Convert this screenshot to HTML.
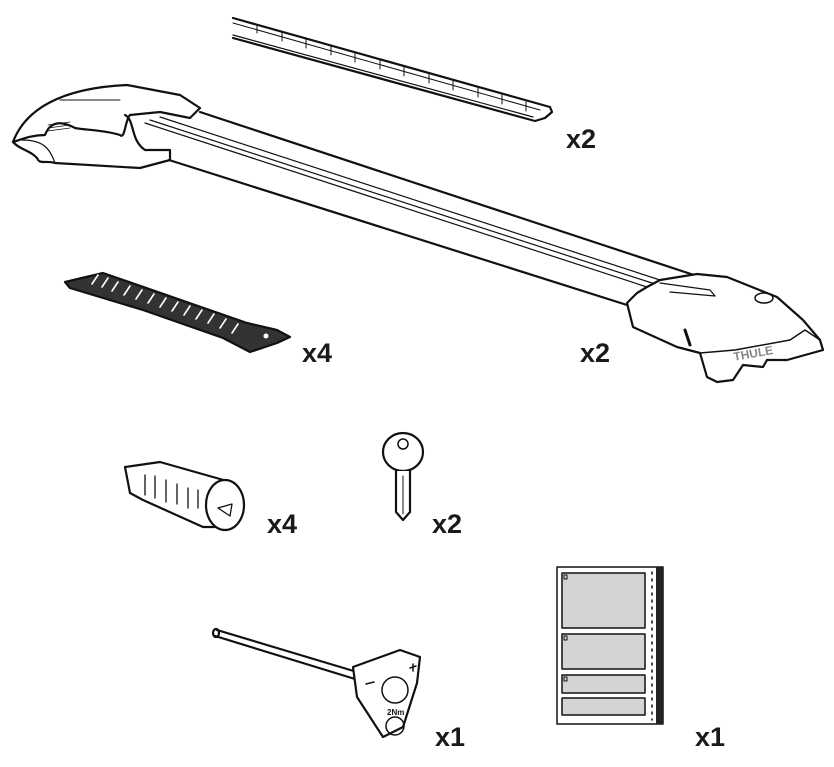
<!DOCTYPE html>
<html><head><meta charset="utf-8"><style>
html,body{margin:0;padding:0;background:#fff;}
svg{display:block;}
.l{font-family:"Liberation Sans",sans-serif;font-weight:bold;font-size:27px;fill:#1a1a1a;}
</style></head><body>
<svg width="834" height="767" viewBox="0 0 834 767" xmlns="http://www.w3.org/2000/svg" fill="none" stroke="#111" stroke-width="2.2" stroke-linejoin="round" stroke-linecap="round">
<!-- strip -->
<path d="M233,18 L550,107 L552,112 L545,118 L535,121 L233,38" fill="#fff"/>
<path d="M233,23 L540,110" stroke-width="1"/>
<path d="M233,35 L533,117" stroke-width="1.2"/>
<g stroke-width="1">
<path d="M257,25 v8 M282,32 v9 M306,39 v9 M331,46 v9 M355,53 v9 M380,60 v9 M404,67 v9 M429,74 v9 M453,81 v9 M478,88 v9 M502,95 v9 M526,102 v9"/>
</g>
<!-- bar -->
<path d="M200,112 L700,277" />
<path d="M160,117 L660,280" stroke-width="1.2"/>
<path d="M150,120 L655,284" stroke-width="1.2"/>
<path d="M145,123 L650,288" stroke-width="1.2"/>
<path d="M169,160 L627,305"/>
<!-- left cap -->
<path d="M13,142 C25,110 60,88 127,85 L180,95 L200,108 L190,118 L160,112 L130,115 C125,120 125,140 120,135 C105,130 85,130 75,128 C60,120 50,122 45,135 C30,135 20,140 13,142 Z" fill="#fff"/>
<path d="M13,142 C20,150 30,150 37,158 C40,165 45,160 55,163 L140,168 L170,160 L170,150 L145,150 C130,140 135,120 125,115"/>
<path d="M22,140 C45,140 50,150 55,163" stroke-width="1.2"/>
<path d="M60,100 L120,100" stroke-width="1"/>
<path d="M48,125 L70,122 M48,128 L70,125 M48,131 L70,128" stroke-width="0.8"/>
<!-- right cap -->
<path d="M647,287 L660,280 L697,274 L727,277 L777,297 L803,320 L820,340 L823,350 L787,360 L767,360 L763,367 L743,365 L733,380 L717,382 L707,377 L700,353 L677,347 L633,327 L627,303 L637,293 Z" fill="#fff"/>
<path d="M660,283 L710,290 L715,296 L670,292" stroke-width="1.2"/>
<ellipse cx="764" cy="298" rx="9" ry="5" stroke-width="1.5"/>
<path d="M700,353 L735,350 L790,340 L805,330 L820,340" stroke-width="1.5"/>
<path d="M685,330 L690,345" stroke-width="3"/>
<text x="733" y="358" font-family="Liberation Sans,sans-serif" font-weight="bold" font-size="12" fill="#888" stroke="none" transform="rotate(-10 750 352)">THULE</text>
<!-- strap -->
<path d="M65,282 L103,273 L247,323 L277,330 L290,337 L277,343 L250,352 L223,338 L143,310 L70,288 Z" fill="#333"/>
<g stroke="#fff" stroke-width="1.6">
<path d="M92,284 l6,-9 M102,287 l6,-9 M112,291 l6,-9 M124,295 l6,-9 M136,299 l6,-9 M148,303 l6,-9 M160,307 l6,-9 M172,311 l6,-9 M184,315 l6,-9 M196,319 l6,-9 M208,323 l6,-9 M220,328 l6,-9 M232,333 l6,-9"/>
</g>
<circle cx="266" cy="336" r="2.5" fill="#fff" stroke="none"/>
<!-- lock cylinder -->
<path d="M125,467 L160,462 L227,481 L215,527 L203,527 L143,500 L130,493 Z" fill="#fff"/>
<ellipse cx="225" cy="505" rx="19" ry="25" fill="#fff"/>
<path d="M218,508 L232,504 L230,516 Z" stroke-width="1.3"/>
<g stroke-width="1.3"><path d="M145,475 v20 M155,476 v22 M166,480 v22 M177,484 v20 M188,488 v20 M198,490 v18"/></g>
<!-- key -->
<ellipse cx="403" cy="452" rx="20" ry="19" fill="#fff"/>
<circle cx="403" cy="444" r="5" stroke-width="1.5"/>
<path d="M396,471 L396,512 L403,520 L410,512 L410,471" fill="#fff"/>
<path d="M403,476 v38" stroke-width="1"/>
<!-- tool -->
<path d="M217,630 L357,672 M215,636 L355,679" />
<ellipse cx="216" cy="633" rx="3" ry="4"/>
<path d="M353,667 L400,650 L420,657 L417,683 L403,727 L383,737 L357,697 Z" fill="#fff"/>
<circle cx="395" cy="690" r="13" stroke-width="1.5"/>
<circle cx="395" cy="726" r="9" stroke-width="1.5"/>
<text x="387" y="715" font-family="Liberation Sans,sans-serif" font-weight="bold" font-size="8" fill="#111" stroke="none">2Nm</text>
<path d="M366,684 l8,-2 M410,668 l6,-2 M413,664 v7" stroke-width="1.5"/>
<!-- booklet -->
<rect x="557" y="567" width="106" height="157" fill="#fff" stroke-width="1.5"/>
<rect x="656" y="567" width="7" height="157" fill="#222" stroke="none"/>
<g fill="#d4d4d4" stroke-width="1.5">
<rect x="562" y="573" width="83" height="55"/>
<rect x="562" y="634" width="83" height="35"/>
<rect x="562" y="675" width="83" height="18"/>
<rect x="562" y="698" width="83" height="17"/>
</g>
<g stroke-width="1"><rect x="564" y="575" width="3" height="4"/><rect x="564" y="636" width="3" height="4"/><rect x="564" y="677" width="3" height="4"/></g>
<g stroke-width="1.5" stroke-dasharray="2 5"><path d="M652,572 V720"/></g>
<!-- labels -->
<g stroke="none">
<text class="l" x="566" y="148">x2</text>
<text class="l" x="302" y="362">x4</text>
<text class="l" x="580" y="362">x2</text>
<text class="l" x="267" y="533">x4</text>
<text class="l" x="432" y="533">x2</text>
<text class="l" x="435" y="746">x1</text>
<text class="l" x="695" y="746">x1</text>
</g>
</svg>
</body></html>
